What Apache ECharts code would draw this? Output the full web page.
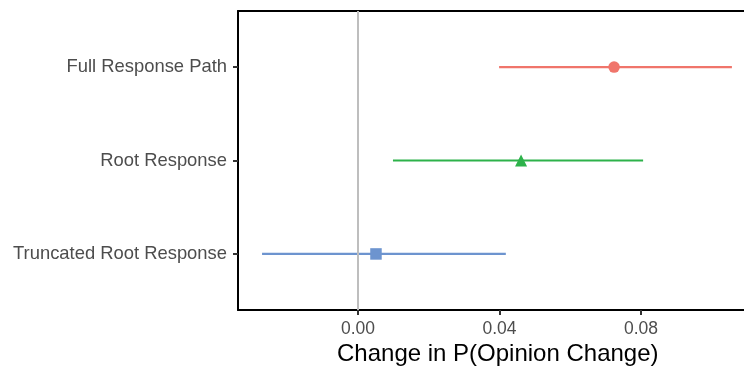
<!DOCTYPE html>
<html><head><meta charset="utf-8">
<script src="https://cdn.jsdelivr.net/npm/echarts@6/dist/echarts.min.js"></script>
<style>html,body{margin:0;padding:0;background:#fff}#c{width:744px;height:368px}</style>
</head><body><div id="c"></div>
<script>
const categories = ["Truncated Root Response", "Root Response", "Full Response Path"];
const estimates = [0.0051, 0.0461, 0.0724];
const lower = [-0.0271, 0.0099, 0.0399];
const upper = [0.0418, 0.0806, 0.1057];
const colors = ["#6D94CF", "#2DB24A", "#F0756B"];
const symbols = ["rect", "triangle", "circle"];
const xTicks = [0, 0.04, 0.08];
const xTitle = 'Change in P(Opinion Change)';

const chart = echarts.init(document.getElementById('c'), null, {renderer: 'canvas'});
const series = [];
series.push({
  type: 'line', data: [], silent: true,
  markLine: {
    silent: true, symbol: 'none', label: {show: false},
    lineStyle: {color: '#bebebe', width: 2, type: 'solid'},
    data: [{xAxis: 0}]
  }
});
categories.forEach((c, i) => {
  series.push({
    type: 'line', name: c + ' CI', silent: true, symbol: 'none',
    lineStyle: {color: colors[i], width: 2.2},
    data: [[lower[i], i + 1], [upper[i], i + 1]], z: 3
  });
  series.push({
    type: 'scatter', name: c, symbol: symbols[i],
    symbolSize: symbols[i] === 'triangle' ? 12 : 11.5,
    itemStyle: {color: colors[i], opacity: 1},
    data: [[estimates[i], i + 1]], z: 4
  });
});

chart.setOption({
  animation: false,
  title: {text: xTitle, left: 337, top: 342, padding: 0,
          textStyle: {color: '#000', fontSize: 24, fontWeight: 'normal', fontFamily: 'Liberation Sans'}},
  grid: {left: 238, top: 11, width: 544.5, height: 299, containLabel: false,
         outerBoundsMode: 'none', show: false},
  xAxis: [{
    type: 'value', min: -0.0339, max: 0.12, position: 'bottom',
    axisLine: {show: true, onZero: false, lineStyle: {color: '#000', width: 2}},
    splitLine: {show: false},
    axisTick: {show: true, length: 5, lineStyle: {color: '#333', width: 2}, customValues: xTicks},
    axisLabel: {customValues: xTicks, formatter: v => v.toFixed(2), color: '#4d4d4d',
                fontSize: 17.5, fontFamily: 'Liberation Sans', margin: 10}
  }, {
    type: 'value', min: -0.0339, max: 0.12, position: 'top',
    axisLine: {show: true, onZero: false, lineStyle: {color: '#000', width: 2}},
    splitLine: {show: false}, axisTick: {show: false}, axisLabel: {show: false}
  }],
  yAxis: {
    type: 'value', min: 0.4, max: 3.6,
    axisLine: {show: true, onZero: false, lineStyle: {color: '#000', width: 2}},
    splitLine: {show: false},
    axisTick: {show: true, length: 5, lineStyle: {color: '#333', width: 2}, customValues: [1, 2, 3]},
    axisLabel: {customValues: [1, 2, 3], formatter: v => categories[Math.round(v) - 1],
                color: '#4d4d4d', fontSize: 18.4, fontFamily: 'Liberation Sans', margin: 11}
  },
  series: series
});
</script></body></html>
